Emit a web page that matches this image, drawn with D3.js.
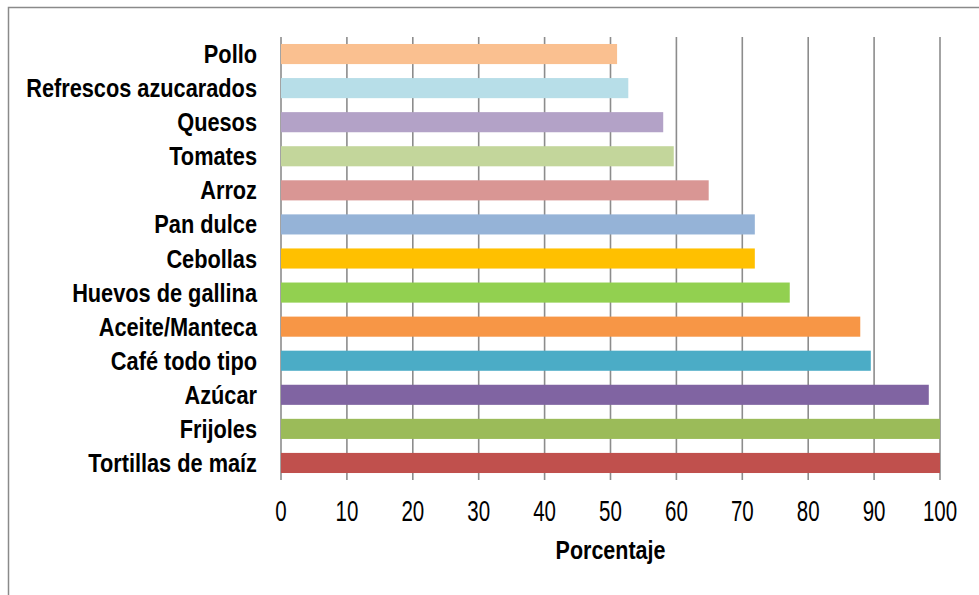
<!DOCTYPE html>
<html>
<head>
<meta charset="utf-8">
<script src="https://cdn.jsdelivr.net/npm/d3@7"></script>
<style>
  body { margin: 0; background: #fff; }
  text { font-family: "Liberation Sans", Arial, sans-serif; fill: #000; }
</style>
</head>
<body>
<div class="chartdiv"></div>
<script>
//chart data, top to bottom
var categories = ["Pollo","Refrescos azucarados","Quesos","Tomates","Arroz","Pan dulce",
    "Cebollas","Huevos de gallina","Aceite/Manteca","Café todo tipo","Azúcar","Frijoles","Tortillas de maíz"];
var values = [51.0, 52.7, 58.0, 59.6, 64.9, 71.9, 71.9, 77.2, 87.9, 89.5, 98.3, 100, 100];
var barColors = ["#FAC090","#B7DEE8","#B3A2C7","#C3D69B","#D99694","#95B3D7",
    "#FFC000","#92D050","#F79646","#4BACC6","#8064A2","#9BBB59","#C0504D"];
var tickValues = [0,10,20,30,40,50,60,70,80,90,100];
var axisTitle = "Porcentaje";

var width = 979, height = 595;

//plot frame (names avoid window.top)
var plotLeft = 281, plotRight = 940, plotTop = 37, plotBottom = 480;

var svg = d3.select("div.chartdiv")
    .append("svg")
    .attr("width", width)
    .attr("height", height);

//outer chart border (only top and left visible)
svg.append("path")
    .attr("d", "M8.5," + height + "V7.5H" + width)
    .attr("fill", "none")
    .attr("stroke", "#8a8a8a")
    .attr("stroke-width", 1.5);

var x = d3.scaleLinear()
    .domain([0, 100])
    .range([plotLeft, plotRight]);

var y = d3.scaleBand()
    .domain(categories)
    .range([plotTop, plotBottom])
    .paddingInner(0.41)
    .paddingOuter(0.205);

//vertical gridlines
svg.append("g")
    .selectAll("line")
    .data(tickValues)
    .enter()
    .append("line")
    .attr("x1", function(d){ return x(d); })
    .attr("x2", function(d){ return x(d); })
    .attr("y1", plotTop)
    .attr("y2", plotBottom)
    .attr("stroke", "#8c8c8c")
    .attr("stroke-width", 1.6);

//bars
svg.append("g")
    .selectAll("rect")
    .data(values)
    .enter()
    .append("rect")
    .attr("x", x(0))
    .attr("y", function(d, i){ return y(categories[i]); })
    .attr("width", function(d){ return x(d) - x(0); })
    .attr("height", y.bandwidth())
    .attr("fill", function(d, i){ return barColors[i]; });

//category labels (narrowed, no condensed font installed)
svg.append("g")
    .selectAll("text")
    .data(categories)
    .enter()
    .append("text")
    .attr("transform", function(d){
        return "translate(257," + (y(d) + y.bandwidth() / 2) + ") scale(0.87,1)";
    })
    .attr("dy", "0.36em")
    .attr("text-anchor", "end")
    .style("font-size", "25px")
    .style("font-weight", "bold")
    .text(function(d){ return d; });

//x tick labels
svg.append("g")
    .selectAll("text")
    .data(tickValues)
    .enter()
    .append("text")
    .attr("text-anchor", "middle")
    .attr("transform", function(d){ return "translate(" + x(d) + ",521) scale(0.82,1.15)"; })
    .style("font-size", "25px")
    .text(function(d){ return d; });

//axis title
svg.append("text")
    .attr("transform", "translate(" + ((plotLeft + plotRight) / 2) + ",559) scale(0.86,1)")
    .attr("text-anchor", "middle")
    .style("font-size", "25px")
    .style("font-weight", "bold")
    .text(axisTitle);
</script>
</body>
</html>
